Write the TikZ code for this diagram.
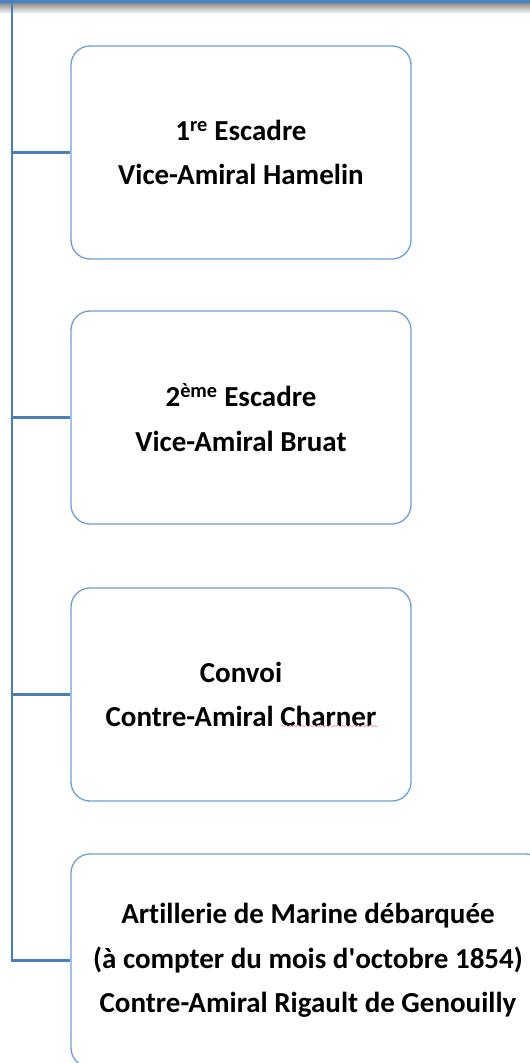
\documentclass[tikz,border=0pt]{standalone}
\usepackage{fontspec}
\setmainfont[Ligatures={NoCommon}]{Carlito}
\usetikzlibrary{decorations.pathmorphing}
\definecolor{boxline}{HTML}{6A9FD8}
\definecolor{trunkcol}{HTML}{4A7EBB}
\definecolor{barcol}{HTML}{4683C4}
\definecolor{squig}{HTML}{F0A0A8}
\begin{document}
\begin{tikzpicture}[x=1pt,y=-1pt,
  unitbox/.style={draw=boxline, line width=1.3pt, rounded corners=19pt,
    rectangle, minimum height=213pt, align=center, inner sep=0pt,
    font=\bfseries\fontsize{29}{44.5}\selectfont},
  branch/.style={draw=trunkcol, line width=2.4pt}]
\useasboundingbox (0,0) rectangle (530,1063);
% parent box edge at top with shadow
\shade[top color=black!45, bottom color=white] (0,3) rectangle (530,14);
\fill[barcol] (0,-6) rectangle (530,3);
\coordinate (top) at (12,3);
\node[unitbox, minimum width=340pt] (b1) at (241,152.5) {1\textsuperscript{re} Escadre\\Vice-Amiral Hamelin};
\node[unitbox, minimum width=340pt] (b2) at (241,417.5) {2\textsuperscript{ème} Escadre\\Vice-Amiral Bruat};
\node[unitbox, minimum width=340pt] (b3) at (241,694.5) {Convoi\\Contre-Amiral Charner};
\node[unitbox, minimum width=474pt] (b4) at (308,960.5) {Artillerie de Marine débarquée\\(à compter du mois d\textquotesingle octobre 1854)\\Contre-Amiral Rigault de Genouilly};
\draw[branch] (top) |- (b4.west);
\draw[branch] (top |- b1.west) -- (b1.west);
\draw[branch] (top |- b2.west) -- (b2.west);
\draw[branch] (top |- b3.west) -- (b3.west);
\draw[squig, line width=0.7pt, decorate, decoration={snake, amplitude=0.8pt, segment length=4pt}] (281,726) -- (378,726);
\end{tikzpicture}
\end{document}
